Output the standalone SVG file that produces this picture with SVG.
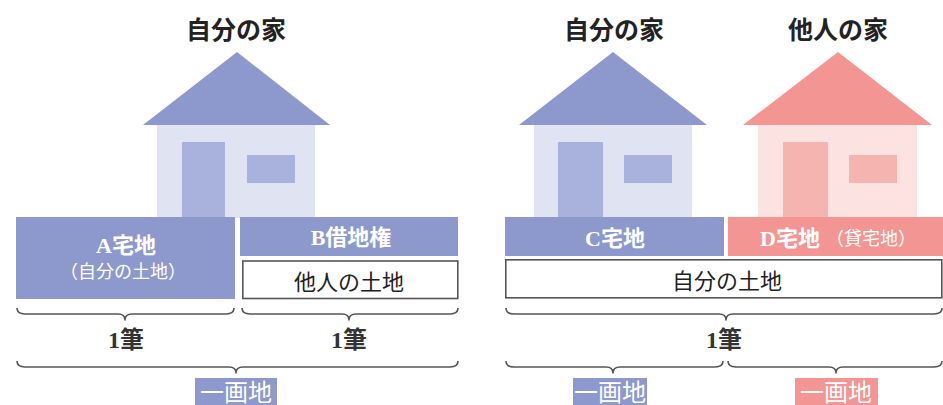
<svg xmlns="http://www.w3.org/2000/svg" width="943" height="405" viewBox="0 0 943 405">
<style>
text{font-family:"Liberation Serif","Noto Sans CJK JP",serif;text-anchor:middle}
.title{font-size:25px;font-weight:bold;fill:#222}
.lbl{font-size:22px;font-weight:bold;fill:#fff}
.sub{font-size:18px;fill:#fff}
.start{text-anchor:start}
.dark{font-size:22px;fill:#222}
.hitsu{font-size:24px;font-weight:bold;fill:#333}
.kaku{font-size:24px;fill:#fff}
.roofB{fill:#8d99cc}.bodyB{fill:#dfe3f2}.partB{fill:#a8b2dc}
.roofP{fill:#f29593}.bodyP{fill:#fce3e1}.partP{fill:#f6b4b0}
.white{fill:#fff;stroke:#555;stroke-width:1.6}
.brace{fill:none;stroke:#555;stroke-width:1.6;stroke-linejoin:round}
</style>
<rect width="943" height="405" fill="#fff"/>

<g id="house-left">
<text class="title" x="236" y="39">自分の家</text>
<polygon class="roofB" points="237,52 143,125 330,125"/>
<rect class="bodyB" x="157" y="125" width="158" height="93"/>
<rect class="partB" x="182" y="142" width="43" height="76"/>
<rect class="partB" x="247" y="155" width="48" height="28"/>
</g>

<g id="house-mid">
<text class="title" x="614" y="39">自分の家</text>
<polygon class="roofB" points="613,52 519,125 707,125"/>
<rect class="bodyB" x="534" y="125" width="158" height="93"/>
<rect class="partB" x="558" y="142" width="45" height="76"/>
<rect class="partB" x="624" y="155" width="48" height="28"/>
</g>

<g id="house-right">
<text class="title" x="838" y="39">他人の家</text>
<polygon class="roofP" points="838,52 743,125 932,125"/>
<rect class="bodyP" x="758" y="125" width="159" height="93"/>
<rect class="partP" x="783" y="142" width="45" height="76"/>
<rect class="partP" x="849" y="155" width="48" height="28"/>
</g>

<g id="lot-A">
<rect class="roofB" x="16" y="217" width="219" height="82"/>
<text class="lbl" x="126" y="253">A宅地</text>
<text class="sub" x="123" y="278">（自分の土地）</text>
</g>

<g id="lot-B">
<rect class="roofB" x="240" y="217" width="218" height="39"/>
<text class="lbl" x="351" y="245">B借地権</text>
</g>

<g id="land-other">
<rect class="white" x="242.8" y="261" width="215" height="37.5"/>
<text class="dark" x="349" y="290">他人の土地</text>
</g>

<g id="lot-C">
<rect class="roofB" x="505" y="217" width="219" height="39"/>
<text class="lbl" x="615" y="246">C宅地</text>
</g>

<g id="lot-D">
<rect class="roofP" x="728" y="217" width="215" height="39"/>
<text class="lbl start" x="760" y="246">D宅地</text>
<text class="sub start" x="826" y="245">（貸宅地）</text>
</g>

<g id="land-own">
<rect class="white" x="505.8" y="259.8" width="436" height="38"/>
<text class="dark" x="727" y="289">自分の土地</text>
</g>

<g id="connectors">
<path class="brace" d="M17,308 Q17,314 25,314 L118,314 Q125,314 125,320 Q125,314 132,314 L226,314 Q234,314 234,308"/>
<path class="brace" d="M242,308 Q242,314 250,314 L342,314 Q349,314 349,320 Q349,314 356,314 L450,314 Q458,314 458,308"/>
<path class="brace" d="M506,308 Q506,314 514,314 L719,314 Q726,314 726,320 Q726,314 733,314 L934,314 Q942,314 942,308"/>
<path class="brace" d="M17,361 Q17,367 25,367 L229,367 Q236,367 236,373 Q236,367 243,367 L450,367 Q458,367 458,361"/>
<path class="brace" d="M506,361 Q506,367 514,367 L606,367 Q613,367 613,373 Q613,367 620,367 L715,367 Q723,367 723,361"/>
<path class="brace" d="M728,361 Q728,367 736,367 L829,367 Q836,367 836,373 Q836,367 843,367 L934,367 Q942,367 942,361"/>
</g>

<g id="count-A">
<text class="hitsu" x="126" y="348">1筆</text>
</g>
<g id="count-B">
<text class="hitsu" x="349" y="348">1筆</text>
</g>
<g id="count-CD">
<text class="hitsu" x="724" y="348">1筆</text>
</g>

<g id="parcel-left">
<rect class="roofB" x="195" y="378" width="82" height="27"/>
<text class="kaku" x="236" y="401">一画地</text>
</g>
<g id="parcel-C">
<rect class="roofB" x="573" y="378" width="74" height="27"/>
<text class="kaku" x="610" y="401">一画地</text>
</g>
<g id="parcel-D">
<rect class="roofP" x="795" y="378" width="83" height="27"/>
<text class="kaku" x="836" y="401">一画地</text>
</g>
</svg>
